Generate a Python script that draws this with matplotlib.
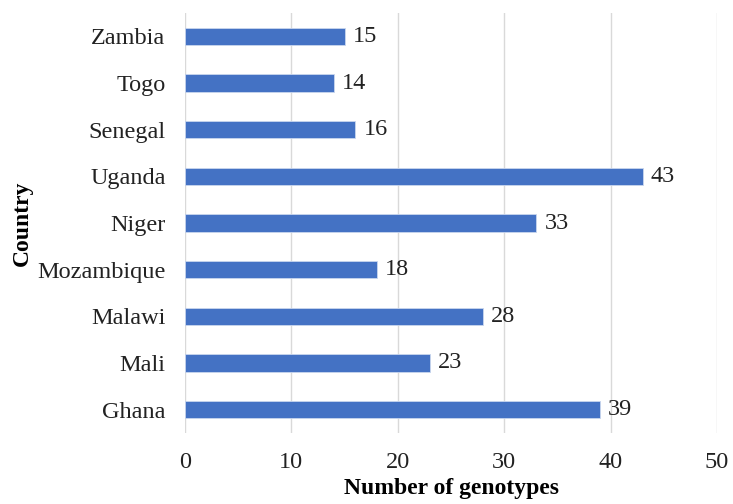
import matplotlib.pyplot as plt
import numpy as np

countries = ["Ghana", "Mali", "Malawi", "Mozambique", "Niger", "Uganda", "Senegal", "Togo", "Zambia"]
genotypes = [39, 23, 28, 18, 33, 43, 16, 14, 15]
x_ticks = [0, 10, 20, 30, 40, 50]

plt.rcParams["font.family"] = ["Liberation Serif", "DejaVu Serif"]

fig = plt.figure(figsize=(7.33, 5.04), dpi=100)
ax = fig.add_axes([0.2524, 0.141, 0.7258, 0.833])

y = np.arange(len(countries))
bars = ax.barh(y, genotypes, height=0.37, color="#4472C4", edgecolor="#C9D6EE", linewidth=0.6, zorder=3)
ax.bar_label(bars, padding=6, fontsize=17.5, color="#222222")

ax.set_xlim(0, 50)
ax.set_ylim(-0.5, len(countries) - 0.5)
ax.set_xticks(x_ticks)
ax.set_yticks(y)
ax.set_yticklabels(countries)
ax.tick_params(axis="both", length=0, labelsize=17.5, colors="#222222")
ax.tick_params(axis="x", pad=14)
ax.tick_params(axis="y", pad=14)

ax.grid(axis="x", color="#D9D9D9", linewidth=1, zorder=0)
for s in ax.spines.values():
    s.set_visible(False)

ax.set_xlabel("Number of genotypes", fontsize=17, fontweight="bold", labelpad=3)
ax.set_ylabel("Country", fontsize=17, fontweight="bold", labelpad=3)

fig.savefig("out.png", dpi=100)
